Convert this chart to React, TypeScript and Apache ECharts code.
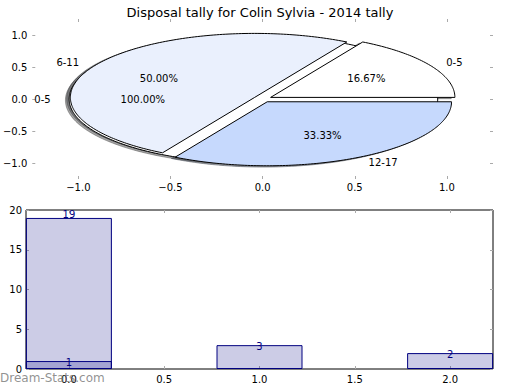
import React, { useEffect, useRef } from 'react';
import * as echarts from 'echarts';

const FONT = 'DejaVu Sans';

const titleText = 'Disposal tally for Colin Sylvia - 2014 tally';

// main pie
const pieLabels = ['0-5', '6-11', '12-17'];
const pieValues = [1, 3, 2];
const pieExplode = [0.05, 0.05, 0.05];
// second (single wedge) pie drawn underneath
const pie2Labels = ['0-5'];
const pie2Values = [1];
const pie2Explode = [0.05];
const pieTicks = [-1, -0.5, 0, 0.5, 1];

// bar chart
const barX = [0, 1, 2];
const barY = [19, 3, 2];
const bar2X = [0];
const bar2Y = [1];
const barXTicks = [0, 0.5, 1, 1.5, 2];

const pieColors = ['#ffffff', '#eaf0fd', '#c6d9fd'];
const pie2Colors = ['#ffffff'];

function buildWedges(values: number[], explode: number[], pieId: number) {
  const total = values.reduce((a, b) => a + b, 0);
  let acc = 0;
  return values.map((v, i) => {
    const s = acc / total;
    acc += v;
    return [s, acc / total, explode[i], pieId, i, (v / total) * 100];
  });
}

const wedgeData = [
  ...buildWedges(pie2Values, pie2Explode, 1),
  ...buildWedges(pieValues, pieExplode, 0),
];

function hexToRgb(h: string) {
  const n = parseInt(h.slice(1), 16);
  return [(n >> 16) & 255, (n >> 8) & 255, n & 255];
}

function colorOf(pieId: number, idx: number) {
  return pieId === 0 ? pieColors[idx] : pie2Colors[idx];
}
function labelOf(pieId: number, idx: number) {
  return pieId === 0 ? pieLabels[idx] : pie2Labels[idx];
}

function wedgePoints(a0: number, a1: number, e: number, ox: number, oy: number) {
  const mid = (a0 + a1) / 2;
  const cx = e * Math.cos(mid) + ox;
  const cy = e * Math.sin(mid) + oy;
  const full = a1 - a0 > 2 * Math.PI - 1e-9;
  const n = Math.max(4, Math.ceil((a1 - a0) / (Math.PI / 180)));
  const pts: number[][] = full ? [] : [[cx, cy]];
  for (let k = 0; k <= n; k++) {
    const t = a0 + ((a1 - a0) * k) / n;
    pts.push([cx + Math.cos(t), cy + Math.sin(t)]);
  }
  return pts;
}

const fmtSigned = (v: number) => (v < 0 ? '\u2212' : '') + Math.abs(v).toFixed(1);

const tickStyle = { show: true, inside: true, length: 3, lineStyle: { color: '#aaaaaa', width: 1 } };
const labelFont = { fontFamily: FONT, fontSize: 10, color: '#000' };
const noLine = { show: false, onZero: false };

export default function App() {
  const ref = useRef<HTMLDivElement>(null);
  useEffect(() => {
    if (!ref.current) return;
    const chart = echarts.init(ref.current, null, { renderer: 'svg' });
    const TWO_PI = Math.PI * 2;

    const option: any = {
      animation: false,
      backgroundColor: '#ffffff',
      title: {
        text: titleText,
        left: 'center',
        top: 1,
        textStyle: { fontFamily: FONT, fontSize: 13, fontWeight: 'normal', color: '#000' },
      },
      grid: [
        { left: 27, top: 19, width: 466, height: 160, show: false },
        { left: 26, top: 210, width: 467, height: 159, show: true, borderColor: '#000', borderWidth: 1, backgroundColor: 'transparent' },
      ],
      xAxis: [
        {
          type: 'value', gridIndex: 0, min: -1.25, max: 1.25, position: 'bottom',
          axisLine: noLine, splitLine: { show: false },
          axisTick: { ...tickStyle, customValues: pieTicks },
          axisLabel: { ...labelFont, margin: 3, customValues: pieTicks, formatter: fmtSigned },
        },
        {
          type: 'value', gridIndex: 0, min: -1.25, max: 1.25, position: 'top',
          axisLine: noLine, splitLine: { show: false },
          axisTick: { ...tickStyle, customValues: pieTicks },
          axisLabel: { show: false },
        },
        {
          type: 'value', gridIndex: 1, min: -0.225, max: 2.225, position: 'bottom',
          axisLine: noLine, splitLine: { show: false },
          axisTick: { ...tickStyle, customValues: barXTicks },
          axisLabel: { ...labelFont, margin: 5, customValues: barXTicks, formatter: (v: number) => v.toFixed(1) },
        },
        {
          type: 'value', gridIndex: 1, min: -0.225, max: 2.225, position: 'top',
          axisLine: noLine, splitLine: { show: false },
          axisTick: { ...tickStyle, customValues: barXTicks },
          axisLabel: { show: false },
        },
      ],
      yAxis: [
        {
          type: 'value', gridIndex: 0, min: -1.25, max: 1.25, position: 'left',
          axisLine: noLine, splitLine: { show: false },
          axisTick: { ...tickStyle, customValues: pieTicks },
          axisLabel: { ...labelFont, margin: 5, customValues: pieTicks, formatter: fmtSigned },
        },
        {
          type: 'value', gridIndex: 0, min: -1.25, max: 1.25, position: 'right',
          axisLine: noLine, splitLine: { show: false },
          axisTick: { ...tickStyle, customValues: pieTicks },
          axisLabel: { show: false },
        },
        {
          type: 'value', gridIndex: 1, min: 0, max: 20, interval: 5, position: 'left',
          axisLine: noLine, splitLine: { show: false },
          axisTick: tickStyle,
          axisLabel: { ...labelFont, margin: 4 },
        },
        {
          type: 'value', gridIndex: 1, min: 0, max: 20, interval: 5, position: 'right',
          axisLine: noLine, splitLine: { show: false },
          axisTick: tickStyle,
          axisLabel: { show: false },
        },
      ],
      series: [
        {
          type: 'custom', name: 'shadows', xAxisIndex: 0, yAxisIndex: 0, z: 1,
          data: wedgeData,
          renderItem: (params: any, api: any) => {
            const a0 = api.value(0) * TWO_PI;
            const a1 = api.value(1) * TWO_PI;
            const e = api.value(2);
            const c = hexToRgb(colorOf(api.value(3), api.value(4)));
            const fill = `rgba(${Math.round(c[0] * 0.3)},${Math.round(c[1] * 0.3)},${Math.round(c[2] * 0.3)},0.5)`;
            const pts = wedgePoints(a0, a1, e, -0.02, -0.02).map((p) => api.coord(p));
            return { type: 'polygon', shape: { points: pts }, style: { fill, stroke: fill, lineWidth: 1 } };
          },
        },
        {
          type: 'custom', name: 'wedges', xAxisIndex: 0, yAxisIndex: 0, z: 2,
          data: wedgeData,
          renderItem: (params: any, api: any) => {
            const a0 = api.value(0) * TWO_PI;
            const a1 = api.value(1) * TWO_PI;
            const e = api.value(2);
            const pts = wedgePoints(a0, a1, e, 0, 0).map((p) => api.coord(p));
            return {
              type: 'polygon',
              z2: params.dataIndex,
              shape: { points: pts },
              style: { fill: colorOf(api.value(3), api.value(4)), stroke: '#000', lineWidth: 1 },
            };
          },
        },
        {
          type: 'custom', name: 'pieLabels', xAxisIndex: 0, yAxisIndex: 0, z: 3,
          data: wedgeData,
          renderItem: (params: any, api: any) => {
            const a0 = api.value(0) * TWO_PI;
            const a1 = api.value(1) * TWO_PI;
            const e = api.value(2);
            const mid = (a0 + a1) / 2;
            const cx = e * Math.cos(mid);
            const cy = e * Math.sin(mid);
            const xt = cx + 1.1 * Math.cos(mid);
            const yt = cy + 1.1 * Math.sin(mid);
            const pOut = api.coord([xt, yt]);
            const pPct = api.coord([cx + 0.6 * Math.cos(mid), cy + 0.6 * Math.sin(mid)]);
            return {
              type: 'group',
              children: [
                {
                  type: 'text', x: pOut[0], y: pOut[1],
                  style: {
                    text: labelOf(api.value(3), api.value(4)),
                    fill: '#000', fontSize: 10, fontFamily: FONT,
                    align: xt > 0 ? 'left' : 'right', verticalAlign: 'middle',
                  },
                },
                {
                  type: 'text', x: pPct[0], y: pPct[1],
                  style: {
                    text: api.value(5).toFixed(2) + '%',
                    fill: '#000', fontSize: 10, fontFamily: FONT,
                    align: 'center', verticalAlign: 'middle',
                  },
                },
              ],
            };
          },
        },
        {
          type: 'bar', name: 'tally', xAxisIndex: 2, yAxisIndex: 2,
          barWidth: 86, barGap: '-100%',
          data: barX.map((x, i) => (i === 0 ? { value: [x, barY[i]], label: { distance: -2 } } : [x, barY[i]])),
          itemStyle: { color: 'rgba(0,0,128,0.2)', borderColor: '#000080', borderWidth: 1 },
          label: { show: true, position: 'top', distance: -6, color: '#000080', fontSize: 10, fontFamily: FONT },
        },
        {
          type: 'bar', name: 'tally2', xAxisIndex: 2, yAxisIndex: 2,
          barWidth: 86, barGap: '-100%',
          data: bar2X.map((x, i) => [x, bar2Y[i]]),
          itemStyle: { color: 'rgba(0,0,128,0.2)', borderColor: '#000080', borderWidth: 1 },
          label: { show: true, position: 'top', distance: -6, color: '#000080', fontSize: 10, fontFamily: FONT },
        },
      ],
      graphic: [
        {
          type: 'text', left: 0, top: 372, z: 100,
          style: { text: 'Dream-Stats.com', fill: 'rgba(110,110,110,0.75)', fontSize: 12, fontFamily: FONT },
        },
      ],
    };
    chart.setOption(option);
    return () => chart.dispose();
  }, []);
  return <div ref={ref} style={{ position: 'fixed', left: 0, top: 0, width: 520, height: 390 }} />;
}
